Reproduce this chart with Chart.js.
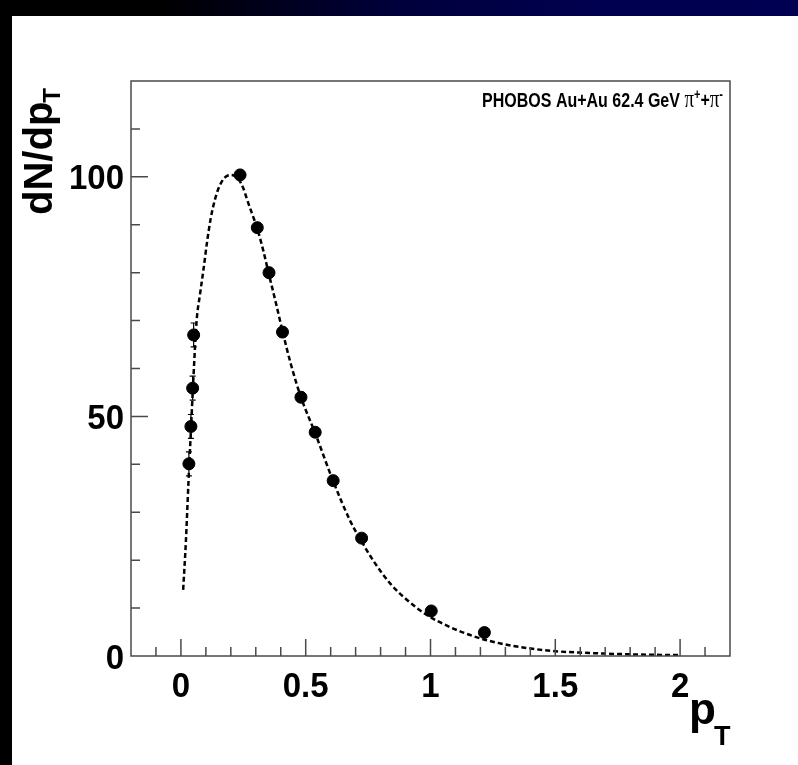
<!DOCTYPE html>
<html>
<head>
<meta charset="utf-8">
<script src="https://cdn.jsdelivr.net/npm/chart.js@4/dist/chart.umd.min.js"></script>
<style>
  body { margin: 0; background: #fff; }
  #wrap { position: relative; width: 798px; height: 765px; overflow: hidden; background: #fff; }
  #topBand { position: absolute; left: 0; top: 0; width: 798px; height: 16px;
    background: linear-gradient(to right, #000 0%, #000 20%, #00003c 50%, #000050 75%, #000052 100%); }
  #leftBand { position: absolute; left: 0; top: 0; width: 12px; height: 765px; background: #000; }
  canvas { position: absolute; left: 0; top: 0; }
</style>
</head>
<body>
<div id="wrap">
  <canvas id="spectrum" width="798" height="765"></canvas>
  <div id="topBand"></div>
  <div id="leftBand"></div>
</div>
<script>
// Datos medidos (puntos) - pT en GeV/c, dN/dpT
const ptPoints    = [0.032, 0.040, 0.047, 0.051, 0.237, 0.306, 0.353, 0.407, 0.481, 0.538, 0.610, 0.724, 1.003, 1.216];
const yieldPoints = [40.1, 47.9, 55.9, 67.0, 100.4, 89.4, 80.0, 67.6, 54.0, 46.7, 36.6, 24.6, 9.4, 4.9];
const yieldErrors = [2.5, 2.5, 2.5, 2.5, 1.0, 1.0, 1.0, 1.0, 1.0, 1.0, 1.0, 0.8, 0.6, 0.5];

// Curva de ajuste (linea discontinua)
const fitPt    = [0.009, 0.02, 0.03, 0.04, 0.05, 0.063, 0.076, 0.09, 0.105, 0.12, 0.135, 0.15, 0.17, 0.185,
                  0.20, 0.215, 0.23, 0.25, 0.27, 0.29, 0.307, 0.33, 0.351, 0.38, 0.407, 0.44, 0.481, 0.538,
                  0.61, 0.68, 0.724, 0.772, 0.839, 0.906, 0.987, 1.08, 1.174, 1.281, 1.388, 1.5, 1.6, 1.7,
                  1.8, 1.9, 2.0];
const fitYield = [13.8, 24.0, 36.0, 47.0, 58.0, 70.0, 75.3, 80.5, 86.5, 91.5, 95.0, 97.5, 99.5, 100.2,
                  100.4, 100.2, 99.6, 97.6, 94.5, 91.6, 89.0, 84.6, 80.0, 73.8, 67.8, 61.0, 54.0, 46.5,
                  36.5, 28.0, 23.9, 19.8, 15.1, 11.7, 8.5, 6.0, 4.1, 2.6, 1.65, 1.0, 0.72, 0.5,
                  0.35, 0.25, 0.18];

// Ejes
const xMajorTicks = [0, 0.5, 1, 1.5, 2];
const xTickLabels = ['0', '0.5', '1', '1.5', '2'];
const yMajorTicks = [0, 50, 100];
const yTickLabels = ['0', '50', '100'];
const xRange = [-0.2, 2.2];
const yRange = [0, 120];

const canvasW = 798, canvasH = 765;
const area = { left: 131, right: 730, top: 81, bottom: 656 };
const sans = "'Liberation Sans', Arial, sans-serif";
const serif = "'Liberation Serif', 'Times New Roman', serif";

const isMajor = (v, list) => list.findIndex(m => Math.abs(m - v) < 1e-6);

// texto estirado en vertical, como en la imagen original
function tallText(ctx, text, x, y, stretch) {
  ctx.save();
  ctx.translate(x, y);
  ctx.scale(1, stretch);
  ctx.fillText(text, 0, 0);
  ctx.restore();
}

// Marco, marcas de los ejes, etiquetas y titulos (estilo ROOT)
const rootFrame = {
  id: 'rootFrame',
  beforeDatasetsDraw(chart) {
    const { ctx, scales: { x, y } } = chart;
    ctx.save();
    ctx.strokeStyle = '#000';
    ctx.lineWidth = 1.2;
    ptPoints.forEach((p, i) => {
      const px = x.getPixelForValue(p);
      const top = y.getPixelForValue(yieldPoints[i] + yieldErrors[i]);
      const bot = y.getPixelForValue(yieldPoints[i] - yieldErrors[i]);
      ctx.beginPath();
      ctx.moveTo(px, top); ctx.lineTo(px, bot);
      ctx.moveTo(px - 3, top); ctx.lineTo(px + 3, top);
      ctx.moveTo(px - 3, bot); ctx.lineTo(px + 3, bot);
      ctx.stroke();
    });
    ctx.restore();
  },
  afterDraw(chart) {
    const { ctx, chartArea: ca, scales: { x, y } } = chart;
    ctx.save();
    ctx.strokeStyle = '#4a4a4a';
    ctx.lineWidth = 1.5;
    ctx.strokeRect(ca.left, ca.top, ca.right - ca.left, ca.bottom - ca.top);

    ctx.beginPath();
    x.ticks.forEach(t => {
      const px = x.getPixelForValue(t.value);
      if (px <= ca.left + 1 || px >= ca.right - 1) return;
      const len = isMajor(t.value, xMajorTicks) >= 0 ? 17 : 9;
      ctx.moveTo(px, ca.bottom); ctx.lineTo(px, ca.bottom - len);
    });
    y.ticks.forEach(t => {
      const py = y.getPixelForValue(t.value);
      if (py >= ca.bottom - 1 || py <= ca.top + 1) return;
      const len = isMajor(t.value, yMajorTicks) >= 0 ? 17 : 9;
      ctx.moveTo(ca.left, py); ctx.lineTo(ca.left + len, py);
    });
    ctx.stroke();

    // etiquetas de los ejes
    ctx.fillStyle = '#000';
    ctx.font = 'bold 33px ' + sans;
    ctx.textAlign = 'center';
    ctx.textBaseline = 'alphabetic';
    xMajorTicks.forEach((v, i) => tallText(ctx, xTickLabels[i], x.getPixelForValue(v), ca.bottom + 41, 1.06));
    ctx.textAlign = 'right';
    yMajorTicks.forEach((v, i) => tallText(ctx, yTickLabels[i], ca.left - 7, y.getPixelForValue(v) + 12.5, 1.06));

    // titulo del eje x: p_T
    ctx.textAlign = 'left';
    ctx.font = 'bold 44px ' + sans;
    ctx.fillText('p', 689, 724);
    ctx.font = 'bold 27px ' + sans;
    ctx.fillText('T', 714, 745);

    // titulo del eje y: dN/dp_T (girado)
    ctx.save();
    ctx.translate(52, 88);
    ctx.rotate(-Math.PI / 2);
    ctx.textAlign = 'right';
    ctx.font = 'bold 24px ' + sans;
    const subW = ctx.measureText('T').width;
    ctx.fillText('T', 0, 8);
    ctx.font = 'bold 40px ' + sans;
    ctx.fillText('dN/dp', -subW + 1, 0);
    ctx.restore();

    // texto del experimento, alineado a la derecha
    const stretch = 1.3;
    const parts = [
      { t: 'PHOBOS Au+Au 62.4 GeV ', f: 'bold 16px ' + sans, dy: 0 },
      { t: 'π', f: '19px ' + serif, dy: 0 },
      { t: '+', f: 'bold 11px ' + sans, dy: -8 },
      { t: '+', f: 'bold 16px ' + sans, dy: 0 },
      { t: 'π', f: '19px ' + serif, dy: 0 },
      { t: '-', f: 'bold 11px ' + sans, dy: -8 }
    ];
    let total = 0;
    parts.forEach(p => { ctx.font = p.f; p.w = ctx.measureText(p.t).width; total += p.w; });
    let cx = 723 - total;
    const base = 107;
    ctx.textAlign = 'left';
    parts.forEach(p => { ctx.font = p.f; tallText(ctx, p.t, cx, base + p.dy, stretch); cx += p.w; });
    ctx.restore();
  }
};

const ctx = document.getElementById('spectrum').getContext('2d');

let spectrumChart = new Chart(ctx, {
  data: {
    datasets: [
      {
        type: 'line',
        label: 'ajuste',
        data: fitPt.map((p, i) => ({ x: p, y: fitYield[i] })),
        borderColor: '#000',
        borderWidth: 2.5,
        borderDash: [5, 3],
        pointRadius: 0,
        fill: false,
        cubicInterpolationMode: 'monotone',
        order: 2
      },
      {
        type: 'scatter',
        label: 'PHOBOS',
        data: ptPoints.map((p, i) => ({ x: p, y: yieldPoints[i] })),
        backgroundColor: '#000',
        borderColor: '#000',
        pointRadius: 6,
        pointHoverRadius: 6,
        order: 1
      }
    ]
  },
  options: {
    responsive: false,
    animation: false,
    events: [],
    layout: { padding: { left: 0, top: area.top, right: canvasW - area.right, bottom: 0 } },
    plugins: { legend: { display: false }, tooltip: { enabled: false } },
    scales: {
      x: {
        type: 'linear',
        min: xRange[0],
        max: xRange[1],
        grid: { display: false },
        border: { display: false },
        ticks: { display: false },
        afterBuildTicks: scale => {
          const ticks = [];
          for (let i = -2; i <= 22; i++) ticks.push({ value: i / 10 });
          scale.ticks = ticks;
        },
        afterFit: scale => { scale.height = canvasH - area.bottom; }
      },
      y: {
        type: 'linear',
        min: yRange[0],
        max: yRange[1],
        grid: { display: false },
        border: { display: false },
        ticks: { display: false },
        afterBuildTicks: scale => {
          const ticks = [];
          for (let v = 0; v <= 120; v += 10) ticks.push({ value: v });
          scale.ticks = ticks;
        },
        afterFit: scale => { scale.width = area.left; }
      }
    }
  },
  plugins: [rootFrame]
});
</script>
</body>
</html>
